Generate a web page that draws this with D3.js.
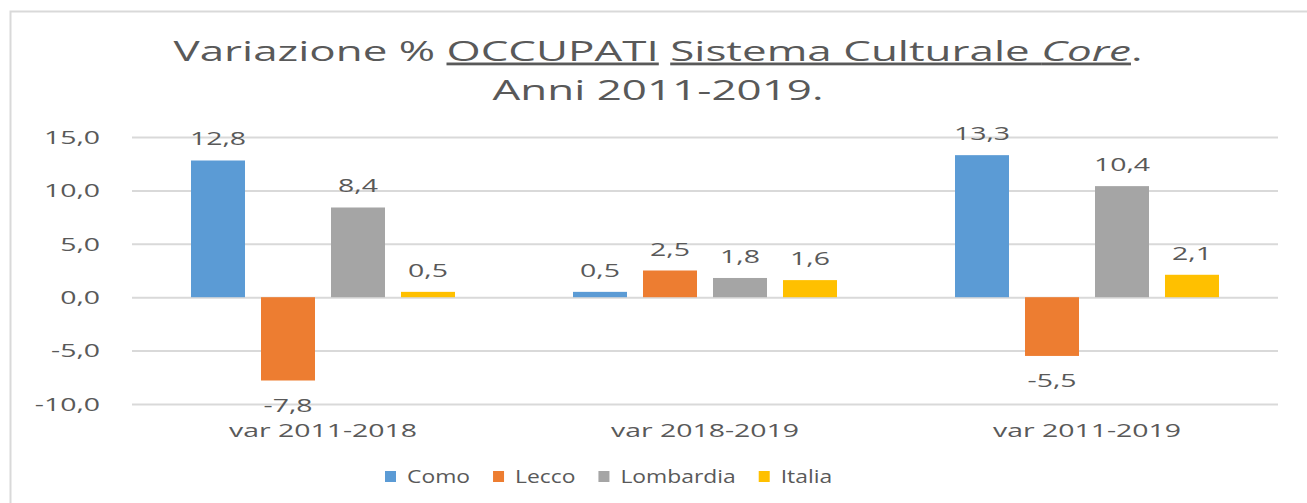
<!DOCTYPE html>
<html>
<head>
<meta charset="utf-8">
<script src="https://cdn.jsdelivr.net/npm/d3@7"></script>
<style>
  body { margin: 0; background: #fff; }
  text { font-family: "Open Sans", sans-serif; fill: #595959; }
</style>
</head>
<body>
<div id="chart-area"></div>
<script>
// data
var categories = ["var 2011-2018", "var 2018-2019", "var 2011-2019"];
var seriesNames = ["Como", "Lecco", "Lombardia", "Italia"];
var como = [12.8, 0.5, 13.3];
var lecco = [-7.8, 2.5, -5.5];
var lombardia = [8.4, 1.8, 10.4];
var italia = [0.5, 1.6, 2.1];
var yTicks = [-10, -5, 0, 5, 10, 15];

var colors = ["#5B9BD5", "#ED7D31", "#A5A5A5", "#FFC000"];
var values = [como, lecco, lombardia, italia];

var width = 1307, height = 503;
var SX = 1.58; // the picture is stretched sideways

var svg = d3.select("#chart-area")
    .append("svg")
    .attr("width", width)
    .attr("height", height);

// chart area border (left + top only visible)
svg.append("path")
    .attr("d", "M10.5," + height + " V11.5 H" + width)
    .attr("fill", "none")
    .attr("stroke", "#D9D9D9")
    .attr("stroke-width", 2);

var plot = { left: 132, right: 1278, top: 137, bottom: 404 };

var y = d3.scaleLinear().domain([-10, 15]).range([plot.bottom, plot.top]);
var x0 = d3.scaleBand().domain(categories).range([plot.left, plot.right]);
var x1 = d3.scaleBand().domain(seriesNames)
    .range([0, x0.bandwidth()])
    .paddingInner(0.2286)
    .paddingOuter(0.843);

// italian style numbers, plain hyphen for minus
var locale = d3.formatLocale({ decimal: ",", thousands: ".", grouping: [3], currency: ["", "€"], minus: "-" });
var fmt = locale.format(".1f");

function stext(g, x, yy, str, anchor, size, sx) {
    return g.append("text")
        .attr("transform", "translate(" + x + "," + yy + ") scale(" + (sx || SX) + ",1)")
        .attr("text-anchor", anchor)
        .style("font-size", size + "px")
        .text(str);
}

// grid + y axis
var yAxis = d3.axisLeft(y)
    .tickValues(yTicks)
    .tickSize(-(plot.right - plot.left))
    .tickFormat(fmt);

var ga = svg.append("g")
    .attr("transform", "translate(" + plot.left + ",0)")
    .call(yAxis);
ga.select(".domain").remove();
ga.selectAll(".tick line").attr("stroke", "#D9D9D9").attr("stroke-width", 2);
ga.selectAll(".tick text")
    .attr("x", 0)
    .attr("dy", "0.35em")
    .attr("transform", "translate(-32,0) scale(" + SX + ",1)")
    .style("font-size", "18px")
    .style("font-family", "'Open Sans', sans-serif")
    .attr("fill", "#595959");

// bars
var rows = [];
categories.forEach(function (c, i) {
    seriesNames.forEach(function (s, j) {
        rows.push({ cat: c, series: s, value: values[j][i], color: colors[j] });
    });
});

var bars = svg.append("g");
bars.selectAll("rect")
    .data(rows)
    .enter()
    .append("rect")
    .attr("x", function (d) { return x0(d.cat) + x1(d.series); })
    .attr("width", x1.bandwidth())
    .attr("y", function (d) { return y(Math.max(0, d.value)); })
    .attr("height", function (d) { return Math.abs(y(d.value) - y(0)); })
    .attr("fill", function (d) { return d.color; });

// value labels
var labels = svg.append("g");
rows.forEach(function (d) {
    var cx = x0(d.cat) + x1(d.series) + x1.bandwidth() / 2;
    var ly = d.value >= 0 ? y(d.value) - 15 : y(d.value) + 31;
    stext(labels, cx, ly, fmt(d.value), "middle", 18);
});

// category labels
var cl = svg.append("g");
categories.forEach(function (c) {
    stext(cl, x0(c) + x0.bandwidth() / 2, 437, c, "middle", 18);
});

// title
var title = svg.append("g");
var t1 = title.append("text")
    .attr("transform", "translate(658,61) scale(1.57,1)")
    .attr("text-anchor", "middle")
    .style("font-size", "28px");
t1.append("tspan").text("Variazione % ");
t1.append("tspan").attr("text-decoration", "underline").text("OCCUPATI");
t1.append("tspan").text(" ");
t1.append("tspan").attr("text-decoration", "underline").text("Sistema Culturale ");
t1.append("tspan").attr("text-decoration", "underline").style("font-style", "italic").text("Core");
t1.append("tspan").text(".");
stext(title, 658, 100, "Anni 2011-2019.", "middle", 28, 1.57);

// legend
var LSX = 1.27;
var legend = svg.append("g");
var lx = 385;
seriesNames.forEach(function (s, i) {
    legend.append("rect")
        .attr("x", lx).attr("y", 471)
        .attr("width", 11).attr("height", 11)
        .attr("fill", colors[i]);
    var t = stext(legend, lx + 22, 483, s, "start", 18, LSX);
    lx = lx + 22 + t.node().getBBox().width * LSX + 23;
});
</script>
</body>
</html>
